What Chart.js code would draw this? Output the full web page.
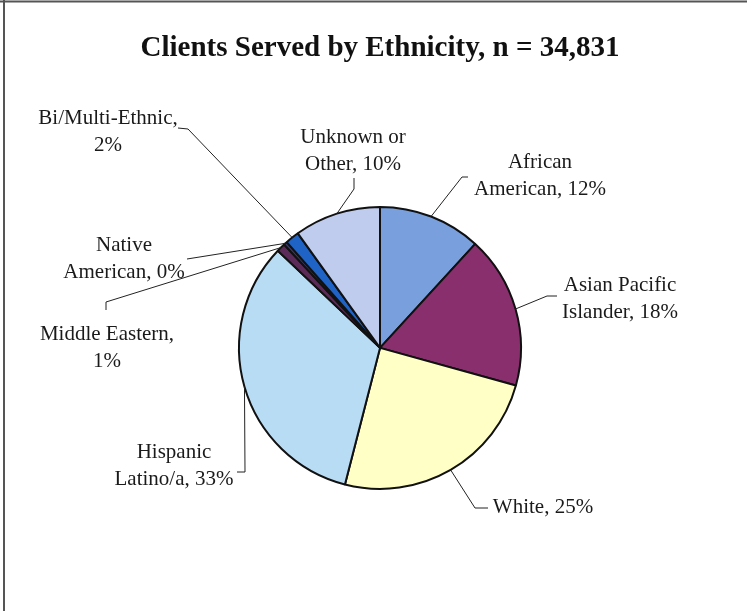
<!DOCTYPE html>
<html>
<head>
<meta charset="utf-8">
<script src="https://cdn.jsdelivr.net/npm/chart.js@4.4.0/dist/chart.umd.min.js"></script>
<style>
  html, body { margin: 0; padding: 0; background: #fff; }
  #wrap { width: 747px; height: 611px; position: relative; }
</style>
</head>
<body>
<div id="wrap"><canvas id="pieChart" width="747" height="611"></canvas></div>
<script>
// Data (percent shares)
const categories = ['African American', 'Asian Pacific Islander', 'White', 'Hispanic Latino/a',
                    'Middle Eastern', 'Native American', 'Bi/Multi-Ethnic', 'Unknown or Other'];
const shares = [11.8, 17.5, 24.7, 33.1, 1.0, 0.4, 1.6, 9.9];
const sliceColors = ['#79a0dc', '#8a2f6e', '#ffffc6', '#b9dcf5', '#5b2a58', '#3a3a6a', '#1f63c6', '#c0cced'];
const labelLines = [
    ['African', 'American, {p}'],
    ['Asian Pacific', 'Islander, {p}'],
    ['White, {p}'],
    ['Hispanic', 'Latino/a, {p}'],
    ['Middle Eastern,', '{p}'],
    ['Native', 'American, {p}'],
    ['Bi/Multi-Ethnic,', '{p}'],
    ['Unknown or', 'Other, {p}']
];

// Label placement: text center (x, y of first line), leader points from label side toward slice
const labelLayout = [
    { x: 540, y: 162, pts: [[468, 177], [462, 177]] },
    { x: 620, y: 285, pts: [[557, 296], [547, 296]] },
    { x: 543, y: 507, pts: [[488, 508], [475, 508]] },
    { x: 174, y: 452, pts: [[237, 472], [245, 472]] },
    { x: 107, y: 334, pts: [[106, 310], [106, 302]] },
    { x: 124, y: 245, pts: [[187, 259]] },
    { x: 108, y: 118, pts: [[178, 128], [188, 129]] },
    { x: 353, y: 137, pts: [[354, 178], [354, 189]] }
];

const serif = '"Liberation Serif", "Times New Roman", serif';

const calloutPlugin = {
    id: 'callouts',
    afterDatasetsDraw(chart) {
        const ctx = chart.ctx;
        const meta = chart.getDatasetMeta(0);
        ctx.save();
        ctx.strokeStyle = '#222';
        ctx.lineWidth = 1;
        meta.data.forEach((arc, i) => {
            const mid = (arc.startAngle + arc.endAngle) / 2;
            const ax = arc.x + Math.cos(mid) * arc.outerRadius;
            const ay = arc.y + Math.sin(mid) * arc.outerRadius;
            const lay = labelLayout[i];
            ctx.beginPath();
            ctx.moveTo(lay.pts[0][0], lay.pts[0][1]);
            for (let k = 1; k < lay.pts.length; k++) {
                ctx.lineTo(lay.pts[k][0], lay.pts[k][1]);
            }
            ctx.lineTo(ax, ay);
            ctx.stroke();

            const pct = Math.round(shares[i]) + '%';
            ctx.fillStyle = '#1a1a1a';
            ctx.font = '21px ' + serif;
            ctx.textAlign = 'center';
            ctx.textBaseline = 'middle';
            labelLines[i].forEach((line, j) => {
                ctx.fillText(line.replace('{p}', pct), lay.x, lay.y + j * 27);
            });
        });
        ctx.restore();
    },
    beforeDraw(chart) {
        // scanned page frame: top and left edges
        const ctx = chart.ctx;
        ctx.save();
        ctx.strokeStyle = '#555';
        ctx.lineWidth = 2;
        ctx.beginPath();
        ctx.moveTo(0, 1.5);
        ctx.lineTo(747, 1.5);
        ctx.moveTo(4, 0);
        ctx.lineTo(4, 611);
        ctx.stroke();
        ctx.restore();
    }
};

document.addEventListener('DOMContentLoaded', function() {
    const ctx = document.getElementById('pieChart').getContext('2d');
    new Chart(ctx, {
        type: 'pie',
        data: {
            labels: categories,
            datasets: [{
                data: shares,
                backgroundColor: sliceColors,
                borderColor: '#111',
                borderWidth: 2,
                radius: 141
            }]
        },
        options: {
            responsive: false,
            animation: false,
            layout: { padding: { left: 13, right: 0, top: 0, bottom: 36 } },
            plugins: {
                legend: { display: false },
                tooltip: { enabled: false },
                title: {
                    display: true,
                    text: 'Clients Served by Ethnicity, n = 34,831',
                    color: '#111',
                    font: { family: serif, size: 29, weight: 'bold', lineHeight: 1.2 },
                    padding: { top: 31, bottom: 55 }
                }
            }
        },
        plugins: [calloutPlugin]
    });
});
</script>
</body>
</html>
